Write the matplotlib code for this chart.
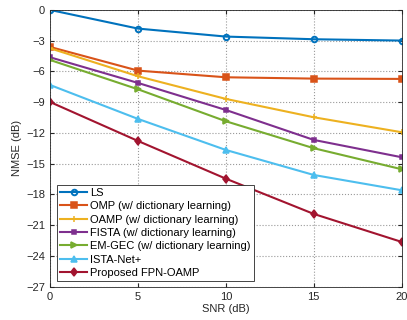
import matplotlib.pyplot as plt
import numpy as np

snr = [0, 5, 10, 15, 20]

ls = [0.0, -1.82, -2.6, -2.86, -2.99]
omp = [-3.61, -5.92, -6.57, -6.7, -6.73]
oamp = [-3.74, -6.47, -8.68, -10.47, -11.93]
fista = [-4.62, -7.12, -9.76, -12.68, -14.37]
em_gec = [-4.88, -7.74, -10.86, -13.49, -15.54]
ista_net = [-7.32, -10.63, -13.66, -16.1, -17.59]
fpn_oamp = [-8.98, -12.78, -16.46, -19.9, -22.63]

names = ['LS', 'OMP (w/ dictionary learning)', 'OAMP (w/ dictionary learning)',
         'FISTA (w/ dictionary learning)', 'EM-GEC (w/ dictionary learning)',
         'ISTA-Net+', 'Proposed FPN-OAMP']
series = [ls, omp, oamp, fista, em_gec, ista_net, fpn_oamp]
colors = ['#0072BD', '#D95319', '#EDB120', '#7E2F8E', '#77AC30', '#4DBEEE', '#A2142F']
markers = ['o', 's', '+', 's', '>', '^', 'd']
msizes = [4, 4, 4, 3, 5, 5, 4.5]

plt.rcParams['font.family'] = 'Liberation Sans'
fig = plt.figure(figsize=(4.07, 3.2), dpi=100)
ax = fig.add_axes([0.1229, 0.104, 0.864, 0.865])

for y, name, c, m, ms in zip(series, names, colors, markers, msizes):
    if m == 'o':
        ax.plot(snr, y, color=c, marker=m, markersize=ms, markerfacecolor='none',
                markeredgewidth=1.4, linewidth=1.5, label=name)
    else:
        ax.plot(snr, y, color=c, marker=m, markersize=ms, markeredgewidth=1.1,
                linewidth=1.5, label=name)

ax.set_xlim(0, 20)
ax.set_ylim(-27, 0)
ax.set_xticks([0, 5, 10, 15, 20])
ax.set_yticks(np.arange(-27, 1, 3))
ax.grid(True, linestyle=':', color='#555555', linewidth=0.8, alpha=0.6)
ax.tick_params(direction='in', labelsize=8, length=3, top=True, right=True,
               colors='#262626')
for s in ax.spines.values():
    s.set_linewidth(0.6)
    s.set_color('#262626')
ax.set_xlabel('SNR (dB)', fontsize=8, labelpad=2, color='#262626')
ax.set_ylabel('NMSE (dB)', fontsize=8, labelpad=3, color='#262626')

leg = ax.legend(loc='lower left', fontsize=8, fancybox=False, framealpha=1,
                edgecolor='#262626', handlelength=2.4, handletextpad=0.3,
                labelspacing=0.3, borderpad=0.3, borderaxespad=0.0,
                bbox_to_anchor=(0.02, 0.02))
leg.get_frame().set_linewidth(0.6)

fig.savefig('out.png', dpi=100)
